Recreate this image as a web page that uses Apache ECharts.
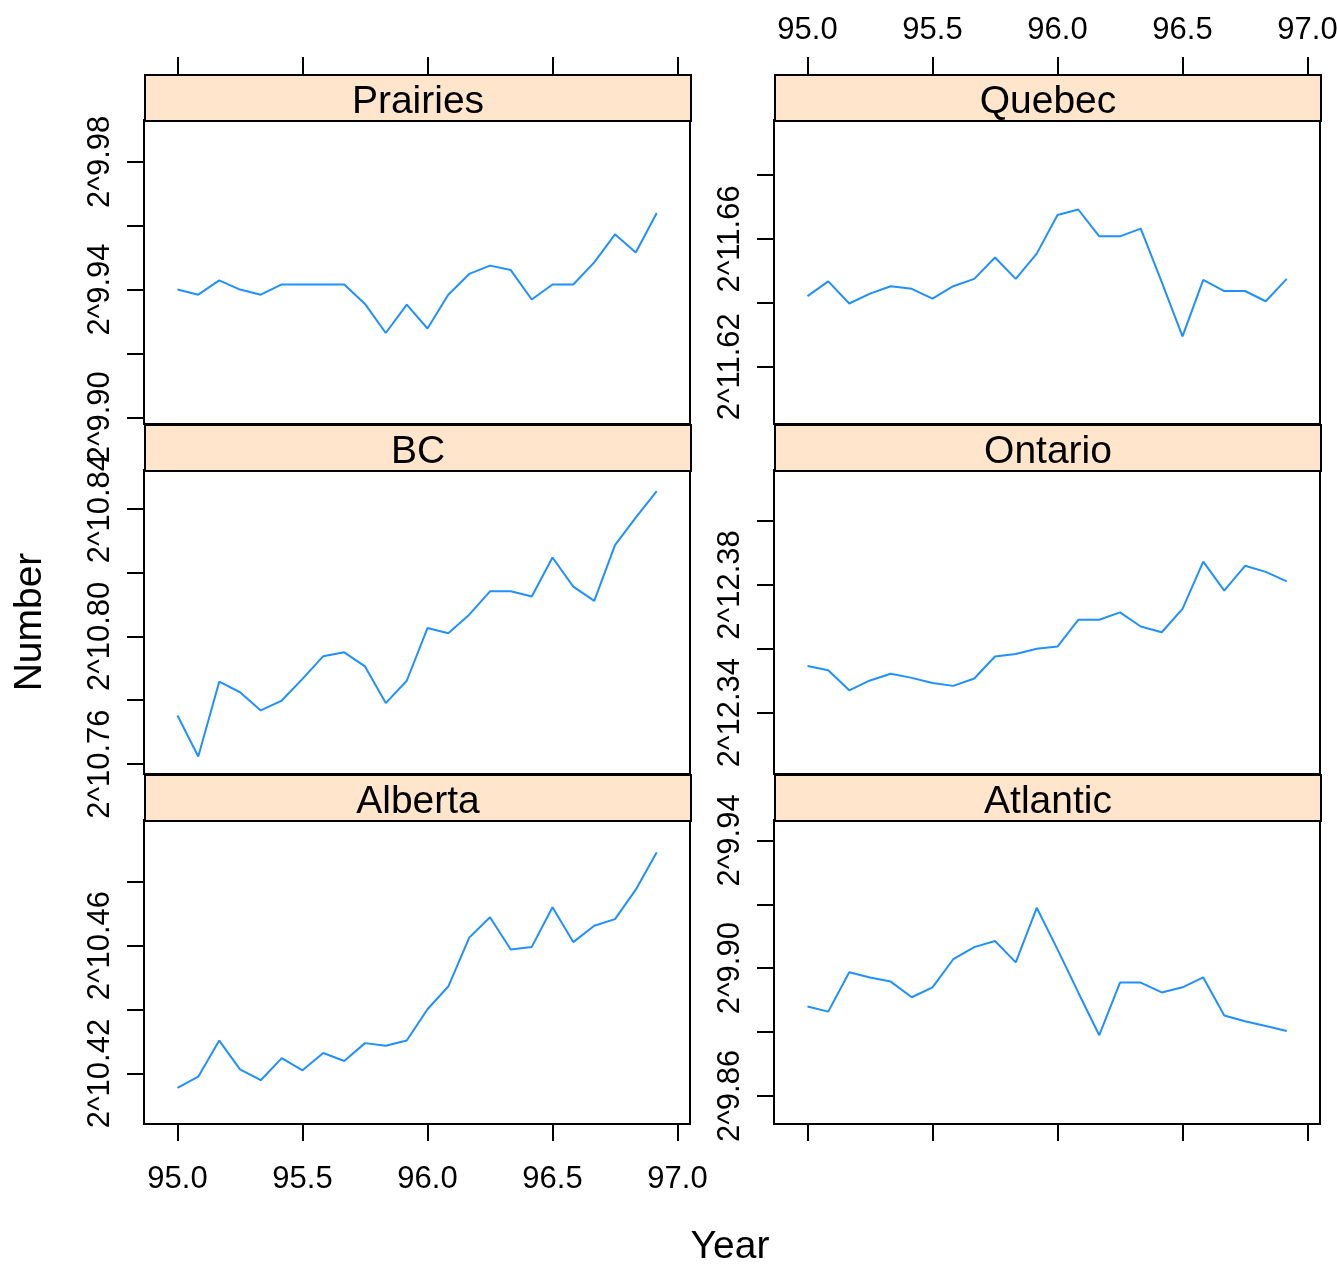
<!DOCTYPE html>
<html>
<head>
<meta charset="utf-8">
<script src="https://cdn.jsdelivr.net/npm/echarts@6/dist/echarts.min.js"></script>
<style>
  html, body { margin: 0; background: #fff; }
  #chart { width: 1337px; height: 1265px; }
</style>
</head>
<body>
<div id="chart"></div>
<script>
// monthly time points (year - 1900)
const years = [95.000, 95.083, 95.167, 95.250, 95.333, 95.417, 95.500, 95.583, 95.667, 95.750, 95.833, 95.917,
  96.000, 96.083, 96.167, 96.250, 96.333, 96.417, 96.500, 96.583, 96.667, 96.750, 96.833, 96.917];

const panelNames = ['Prairies', 'BC', 'Alberta', 'Quebec', 'Ontario', 'Atlantic'];

// log2 of Number
const prairies = [9.9400, 9.9384, 9.9429, 9.9400, 9.9384, 9.9416, 9.9416, 9.9416, 9.9416, 9.9355, 9.9264, 9.9353,
  9.9278, 9.9384, 9.9449, 9.9475, 9.9461, 9.9369, 9.9416, 9.9416, 9.9485, 9.9573, 9.9516, 9.9640];
const bc = [10.7752, 10.7624, 10.7858, 10.7825, 10.7768, 10.7799, 10.7867, 10.7938, 10.7950, 10.7906, 10.7791, 10.7861,
  10.8026, 10.8010, 10.8068, 10.8141, 10.8141, 10.8125, 10.8247, 10.8156, 10.8111, 10.8286, 10.8372, 10.8455];
const alberta = [10.4155, 10.4190, 10.4303, 10.4213, 10.4179, 10.4248, 10.4210, 10.4264, 10.4239, 10.4295, 10.4287, 10.4303,
  10.4401, 10.4472, 10.4625, 10.4689, 10.4588, 10.4596, 10.4720, 10.4611, 10.4662, 10.4683, 10.4775, 10.4892];
const quebec = [11.6421, 11.6467, 11.6398, 11.6429, 11.6452, 11.6444, 11.6413, 11.6452, 11.6475, 11.6542, 11.6475, 11.6554,
  11.6675, 11.6692, 11.6608, 11.6608, 11.6632, 11.6465, 11.6295, 11.6472, 11.6437, 11.6437, 11.6405, 11.6475];
const ontario = [12.3546, 12.3533, 12.3470, 12.3501, 12.3522, 12.3509, 12.3493, 12.3484, 12.3507, 12.3576, 12.3584, 12.3600,
  12.3607, 12.3691, 12.3691, 12.3714, 12.3670, 12.3652, 12.3725, 12.3873, 12.3782, 12.3860, 12.3841, 12.3811];
const atlantic = [9.8880, 9.8864, 9.8987, 9.8971, 9.8958, 9.8909, 9.8940, 9.9028, 9.9066, 9.9085, 9.9018, 9.9189,
  9.9059, 9.8924, 9.8790, 9.8955, 9.8955, 9.8924, 9.8940, 9.8971, 9.8852, 9.8834, 9.8819, 9.8803];
const panelData = [prairies, bc, alberta, quebec, ontario, atlantic];

// axis ranges and ticks
const xRange = [94.866, 97.05];
const xTicks = [95.0, 95.5, 96.0, 96.5, 97.0];
const yRanges = [[9.8979, 9.9931], [10.7569, 10.8521], [10.4042, 10.4993],
  [11.6021, 11.6972], [12.3208, 12.4160], [9.8512, 9.9464]];
const yTicks = [[9.90, 9.92, 9.94, 9.96, 9.98], [10.76, 10.78, 10.80, 10.82, 10.84], [10.42, 10.44, 10.46, 10.48],
  [11.62, 11.64, 11.66, 11.68], [12.34, 12.36, 12.38, 12.40], [9.86, 9.88, 9.90, 9.92, 9.94]];
const yLabels = [[9.90, 9.94, 9.98], [10.76, 10.80, 10.84], [10.42, 10.46],
  [11.62, 11.66], [12.34, 12.38], [9.86, 9.90, 9.94]];

const FONT = '"Liberation Sans", Arial, Helvetica, sans-serif';
const colX = [144, 774];
const panelW = 546;
const rowY = [120, 470, 820];
const panelH = 304;
const stripH = 46;
const lineColor = '#2090ff';
const stripColor = '#ffe5cc';

const chart = echarts.init(document.getElementById('chart'));

const grid = [];
const xAxis = [];
const yAxis = [];
const series = [];
const graphic = [];

panelNames.forEach((name, i) => {
  const col = Math.floor(i / 3);
  const row = i % 3;
  const left = colX[col];
  const top = rowY[row];

  grid.push({
    left, top, width: panelW, height: panelH,
    outerBoundsMode: 'none',
    show: true, borderColor: '#000', borderWidth: 2, backgroundColor: '#fff',
  });

  // lattice alternates: column 1 labels at the bottom, column 2 at the top
  const isTop = row === 0;
  const isBottom = row === 2;
  const showLabels = (col === 0 && isBottom) || (col === 1 && isTop);
  xAxis.push({
    gridIndex: i,
    type: 'value',
    min: xRange[0],
    max: xRange[1],
    show: isTop || isBottom,
    position: isTop ? 'top' : 'bottom',
    offset: isTop ? stripH : 0,
    axisLine: { show: false },
    axisTick: {
      show: true, length: 17, customValues: xTicks,
      lineStyle: { color: '#000', width: 2 },
    },
    axisLabel: {
      show: showLabels,
      customValues: xTicks,
      formatter: (v) => v.toFixed(1),
      color: '#000',
      fontSize: 31,
      fontFamily: FONT,
      margin: isTop ? 28 : 40,
    },
    splitLine: { show: false },
  });

  yAxis.push({
    gridIndex: i,
    type: 'value',
    min: yRanges[i][0],
    max: yRanges[i][1],
    position: 'left',
    axisLine: { show: false },
    axisTick: {
      show: true, length: 17, customValues: yTicks[i],
      lineStyle: { color: '#000', width: 2 },
    },
    axisLabel: {
      customValues: yLabels[i],
      rotate: 90,
      formatter: (v) => '2^' + v.toFixed(2),
      color: '#000',
      fontSize: 31,
      fontFamily: FONT,
      margin: 28,
    },
    splitLine: { show: false },
  });

  series.push({
    name,
    type: 'line',
    xAxisIndex: i,
    yAxisIndex: i,
    showSymbol: false,
    silent: true,
    lineStyle: { color: lineColor, width: 2 },
    data: years.map((x, k) => [x, panelData[i][k]]),
  });

  // strip with panel name
  graphic.push({
    type: 'group',
    left: left,
    top: top - stripH,
    children: [{
      type: 'rect',
      shape: { x: 0, y: 0, width: panelW, height: stripH },
      style: { fill: stripColor, stroke: '#000', lineWidth: 2 },
    }, {
      type: 'text',
      x: panelW / 2,
      y: stripH / 2 + 4,
      style: {
        text: name, fill: '#000', fontSize: 39, fontFamily: FONT,
        align: 'center', verticalAlign: 'middle',
      },
    }],
  });
});

graphic.push({
  type: 'text',
  x: 30,
  y: 622,
  rotation: Math.PI / 2,
  style: {
    text: 'Number', fill: '#000', fontSize: 39, fontFamily: FONT,
    align: 'center', verticalAlign: 'middle',
  },
});
graphic.push({
  type: 'text',
  x: 730,
  y: 1247,
  style: {
    text: 'Year', fill: '#000', fontSize: 39, fontFamily: FONT,
    align: 'center', verticalAlign: 'middle',
  },
});

chart.setOption({
  backgroundColor: '#fff',
  animation: false,
  grid,
  xAxis,
  yAxis,
  series,
  graphic,
});
</script>
</body>
</html>
